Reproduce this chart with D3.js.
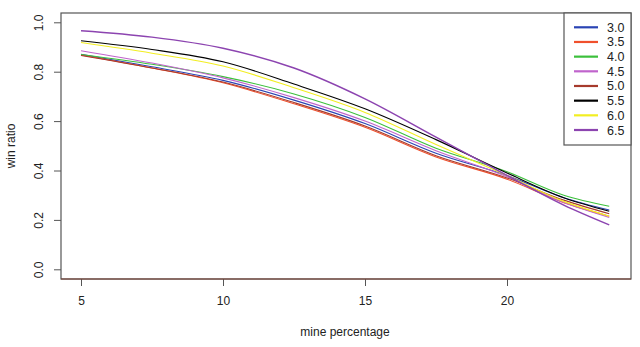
<!DOCTYPE html>
<html>
<head>
<meta charset="utf-8">
<script src="https://cdn.jsdelivr.net/npm/d3@7"></script>
<style>
  body { margin: 0; background: #fff; }
  svg { display: block; font-family: "Liberation Sans", Arial, sans-serif; }
</style>
</head>
<body>
<div id="chart"></div>
<script>
// mine percentage sample points
const minePct = [5, 7.5, 10, 12.5, 15, 17.5, 20, 22, 23.6];

const seriesNames = ["3.0", "3.5", "4.0", "4.5", "5.0", "5.5", "6.0", "6.5"];
const seriesColors = ["#2a44b4", "#f0502c", "#3cc03c", "#c064cc", "#a63a2c", "#000000", "#f2ee22", "#8c44b0"];

// win ratio, one array per series
const win30 = [0.870, 0.820, 0.765, 0.685, 0.590, 0.470, 0.380, 0.290, 0.240];
const win35 = [0.868, 0.815, 0.755, 0.670, 0.575, 0.455, 0.365, 0.270, 0.215];
const win40 = [0.870, 0.830, 0.780, 0.710, 0.615, 0.490, 0.395, 0.300, 0.255];
const win45 = [0.885, 0.835, 0.775, 0.695, 0.600, 0.480, 0.375, 0.270, 0.210];
const win50 = [0.866, 0.815, 0.758, 0.675, 0.580, 0.460, 0.370, 0.280, 0.225];
const win55 = [0.925, 0.890, 0.840, 0.750, 0.650, 0.525, 0.390, 0.290, 0.235];
const win60 = [0.918, 0.875, 0.823, 0.735, 0.635, 0.505, 0.380, 0.275, 0.215];
const win65 = [0.966, 0.940, 0.895, 0.815, 0.690, 0.535, 0.380, 0.260, 0.180];
const allWins = [win30, win35, win40, win45, win50, win55, win60, win65];

const xTicks = [5, 10, 15, 20];
const yTicks = [0, 0.2, 0.4, 0.6, 0.8, 1.0];

const w = 640, h = 347;
const boxLeft = 61, boxRight = 631, boxTop = 13, boxBottom = 279;

const svg = d3.select("#chart").append("svg").attr("width", w).attr("height", h);

const x = d3.scaleLinear().domain([5, 20]).range([81, 507]);
const y = d3.scaleLinear().domain([0, 1]).range([269.3, 22.3]);

const axisCol = "#555";

// x axis
const gx = svg.append("g").attr("transform", `translate(0,${boxBottom})`)
  .call(d3.axisBottom(x).tickValues(xTicks).tickSize(7).tickPadding(10).tickFormat(d3.format("d")));
gx.select(".domain").remove();
gx.selectAll("line").attr("stroke", axisCol);
gx.selectAll("text").attr("font-size", 12).attr("fill", "#222")
  .attr("font-family", "Liberation Sans, Arial, sans-serif");

// y axis, labels rotated like base R
const gy = svg.append("g").attr("transform", `translate(${boxLeft},0)`)
  .call(d3.axisLeft(y).tickValues(yTicks).tickSize(7).tickFormat(d3.format(".1f")));
gy.select(".domain").remove();
gy.selectAll("line").attr("stroke", axisCol);
gy.selectAll("text")
  .attr("font-size", 12).attr("fill", "#222")
  .attr("font-family", "Liberation Sans, Arial, sans-serif")
  .attr("x", null).attr("dy", null)
  .attr("text-anchor", "middle")
  .attr("transform", "translate(-18,0) rotate(-90)");

// series lines
const line = d3.line()
  .x((d, i) => x(minePct[i]))
  .y(d => y(d))
  .curve(d3.curveMonotoneX);

svg.append("g").selectAll("path").data(allWins).join("path")
  .attr("d", line)
  .attr("fill", "none")
  .attr("stroke", (d, i) => seriesColors[i])
  .attr("stroke-width", (d, i) => i === 7 ? 1.5 : 1.1);

// plot box
svg.append("rect")
  .attr("x", boxLeft).attr("y", boxTop)
  .attr("width", boxRight - boxLeft).attr("height", boxBottom - boxTop)
  .attr("fill", "none").attr("stroke", axisCol).attr("stroke-width", 1.2);
svg.append("line")
  .attr("x1", boxLeft).attr("x2", boxRight).attr("y1", boxBottom).attr("y2", boxBottom)
  .attr("stroke", "#7a4034").attr("stroke-width", 1.2);

// axis titles
svg.append("text").attr("x", 345).attr("y", 336)
  .attr("text-anchor", "middle").attr("font-size", 12).attr("fill", "#222")
  .text("mine percentage");
svg.append("text").attr("transform", "translate(15,146) rotate(-90)")
  .attr("text-anchor", "middle").attr("font-size", 12).attr("fill", "#222")
  .text("win ratio");

// legend
const legLeft = 564, legTop = boxTop, legBottom = 145;
svg.append("rect")
  .attr("x", legLeft).attr("y", legTop)
  .attr("width", boxRight - legLeft).attr("height", legBottom - legTop)
  .attr("fill", "#fff").attr("stroke", axisCol).attr("stroke-width", 1.2);

const legY = d3.scalePoint().domain(seriesNames).range([27.3, 130]);
const leg = svg.append("g").selectAll("g").data(seriesNames).join("g")
  .attr("transform", d => `translate(0,${legY(d)})`);
leg.append("line")
  .attr("x1", 574).attr("x2", 598)
  .attr("stroke", (d, i) => seriesColors[i]).attr("stroke-width", 2.2);
leg.append("text")
  .attr("x", 607).attr("dy", "0.36em")
  .attr("font-size", 12.5).attr("fill", "#222")
  .text(d => d);
</script>
</body>
</html>
